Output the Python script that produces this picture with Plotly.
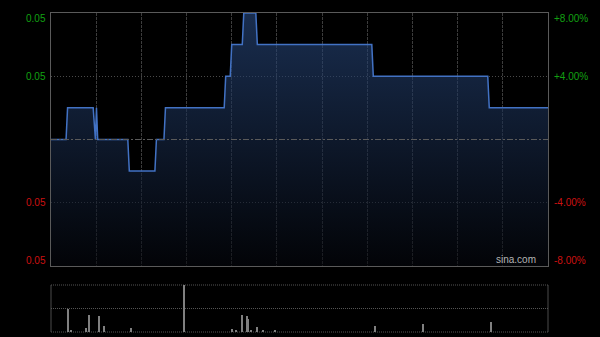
import plotly.graph_objects as go

# ---- data ----
prev_close = 0.050
session_minutes = 330
grid_minutes = [30, 60, 90, 120, 150, 180, 210, 240, 270, 300]

price_t = [0, 10, 11, 28, 29.5, 30.2, 31, 51, 52, 69, 70, 75, 76, 115, 116,
           119, 120, 127, 128, 136, 137, 213, 214, 290, 291, 330]
price_v = [0.050, 0.050, 0.051, 0.051, 0.050, 0.051, 0.050, 0.050, 0.049, 0.049,
           0.050, 0.050, 0.051, 0.051, 0.052, 0.052, 0.053, 0.053, 0.054, 0.054,
           0.053, 0.053, 0.052, 0.052, 0.051, 0.051]

vol_t = [11, 13, 23, 25, 32, 35, 53, 88, 120, 123, 127, 130, 131, 133, 137,
         141, 149, 215, 247, 292]
vol_v = [196000, 16000, 34000, 144000, 136000, 52000, 34000, 400000, 24000,
         16000, 144000, 132000, 112000, 16000, 40000, 12000, 12000, 52000,
         72000, 84000]
vol_max = 400000

pct_ticks = [8, 4, -4, -8]
pct_labels = ["+8.00%", "+4.00%", "-4.00%", "-8.00%"]

# ---- derived ----
y_lo = prev_close * (1 - 0.08)
y_hi = prev_close * (1 + 0.08)
main_bottom = 0.2069
vol_top = 0.1473
font_family = "Liberation Sans, Arial, sans-serif"

fig = go.Figure()
fig.add_trace(go.Scatter(
    x=price_t, y=price_v, mode="lines",
    line=dict(color="#4272c4", width=1.5),
    fill="tozeroy",
    fillgradient=dict(type="vertical",
                      colorscale=[[0, "rgba(4,6,12,0.6)"], [1, "rgba(42,76,132,0.6)"]],
                      start=y_lo, stop=y_hi),
    xaxis="x", yaxis="y", hoverinfo="skip"))

fig.add_trace(go.Bar(
    x=vol_t, y=vol_v, width=0.7,
    marker=dict(color="#808080", line=dict(width=0)),
    xaxis="x2", yaxis="y2", hoverinfo="skip"))

fig.add_shape(type="line", xref="x domain", x0=0, x1=1, yref="y",
              y0=prev_close, y1=prev_close,
              line=dict(color="#5a5a5a", width=1, dash="6px,2px,2px,2px"))

annotations = []
for i, (p, lab) in enumerate(zip(pct_ticks, pct_labels)):
    price = prev_close * (1 + p / 100)
    color = "#12a012" if p > 0 else "#cc1111"
    if i == 0:
        ya, ys = "top", 2
    elif i == len(pct_ticks) - 1:
        ya, ys = "bottom", -2
    else:
        ya, ys = "middle", 0
    annotations.append(dict(xref="paper", x=0, xanchor="right", xshift=-3,
                            yref="y", y=price, yanchor=ya, yshift=ys,
                            text=f"{price:.2f}", showarrow=False,
                            font=dict(size=10, color=color, family=font_family)))
    annotations.append(dict(xref="paper", x=1, xanchor="left", xshift=4,
                            yref="y", y=price, yanchor=ya, yshift=ys,
                            text=lab, showarrow=False,
                            font=dict(size=10, color=color, family=font_family)))
annotations.append(dict(xref="paper", x=1, xanchor="right", xshift=-10,
                        yref="paper", y=main_bottom, yanchor="bottom", yshift=-1,
                        text="sina.com", showarrow=False,
                        font=dict(size=10, color="#b4b4b4", family=font_family)))

fig.update_layout(
    width=600, height=337,
    margin=dict(l=51, r=52, t=13, b=5, pad=0),
    paper_bgcolor="black", plot_bgcolor="black",
    showlegend=False, bargap=0,
    annotations=annotations,
    xaxis=dict(domain=[0, 1], range=[0, session_minutes], anchor="y",
               tickvals=grid_minutes, showticklabels=False, ticks="",
               showgrid=True, gridcolor="#3c3c3c", griddash="3px,1px", gridwidth=1,
               showline=True, mirror=True, linecolor="#5a5a5a", linewidth=1,
               zeroline=False),
    yaxis=dict(domain=[main_bottom, 1], range=[y_lo, y_hi], anchor="x",
               tickvals=[prev_close * (1 + p / 100) for p in pct_ticks[1:3]],
               showticklabels=False, ticks="",
               showgrid=True, gridcolor="#4a4a4a", griddash="1px,2px", gridwidth=1,
               showline=True, mirror=True, linecolor="#5a5a5a", linewidth=1,
               zeroline=False),
    xaxis2=dict(domain=[0, 1], range=[0, session_minutes], anchor="y2",
                showticklabels=False, ticks="", showgrid=False,
                showline=False, zeroline=False),
    yaxis2=dict(domain=[0, vol_top], range=[0, vol_max], anchor="x2",
                tickvals=[vol_max / 2], showticklabels=False, ticks="",
                showgrid=True, gridcolor="#555555", griddash="1px,1px", gridwidth=1,
                showline=False, zeroline=False),
)
# volume panel frame: solid sides, dotted top/bottom
for xv in (0, 1):
    fig.add_shape(type="line", xref="x2 domain", x0=xv, x1=xv, yref="y2 domain", y0=0, y1=1,
                  line=dict(color="#4a4a4a", width=1), layer="below")
for yv in (0, 1):
    fig.add_shape(type="line", xref="x2 domain", x0=0, x1=1, yref="y2 domain", y0=yv, y1=yv,
                  line=dict(color="#555555", width=1, dash="1px,1px"), layer="below")

fig.write_html("out.html")
